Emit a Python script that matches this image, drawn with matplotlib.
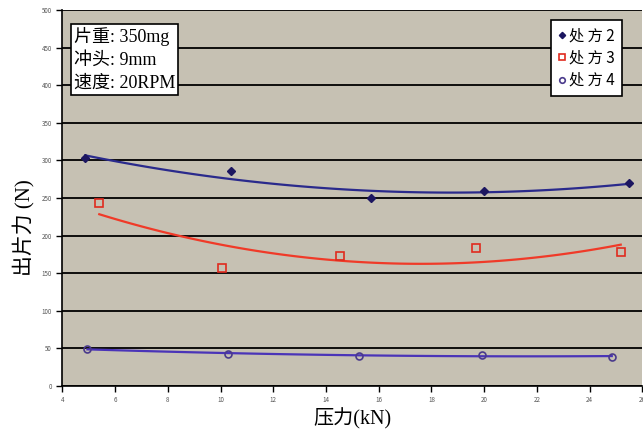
import numpy as np
import matplotlib
matplotlib.use("Agg")
import matplotlib.pyplot as plt

plt.rcParams['font.family'] = ['Noto Sans CJK SC', 'DejaVu Sans']
serif = ['Liberation Serif', 'Noto Sans CJK SC']

# data
x2 = [4.87, 10.39, 15.71, 20.0, 25.5]
y2 = [303, 286, 250, 259, 270]
x3 = [5.4, 10.05, 14.53, 19.7, 25.18]
y3 = [243, 157, 173, 184, 178]
x4 = [4.95, 10.27, 15.25, 19.9, 24.84]
y4 = [49, 43, 40, 41, 39]
names = ['处 方 2', '处 方 3', '处 方 4']
xticks = list(range(4, 27, 2))
yticks = list(range(0, 501, 50))

fig = plt.figure(figsize=(6.43, 4.41), dpi=100)
ax = fig.add_axes([0.097, 0.125, 0.902, 0.852])
ax.set_facecolor('#c6c1b3')

def trend(x, y):
    c = np.polyfit(x, y, 2)
    xs = np.linspace(min(x), max(x), 100)
    return xs, np.polyval(c, xs)

l2, = ax.plot(x2, y2, 'D', ms=4, color='#1c1660', label=names[0], zorder=4)
ax.plot(*trend(x2, y2), color='#2a2a8c', lw=1.6, zorder=3)
l3, = ax.plot(x3, y3, 's', ms=6, mfc='none', mec='#e02a1e', mew=1.2, label=names[1], zorder=4)
ax.plot(*trend(x3, y3), color='#f03a28', lw=1.6, zorder=3)
l4, = ax.plot(x4, y4, 'o', ms=5, mfc='none', mec='#4a3a8c', mew=1.2, label=names[2], zorder=4)
ax.plot(*trend(x4, y4), color='#4a34b8', lw=1.6, zorder=3)

ax.set_xlim(4, 26)
ax.set_ylim(0, 500)
ax.set_xticks(xticks)
ax.set_yticks(yticks)
ax.tick_params(labelsize=4.5, labelcolor='#555555', length=4, width=1)
ax.yaxis.grid(True, color='black', lw=1.3)
ax.set_axisbelow(True)
for s in ['top', 'right']:
    ax.spines[s].set_visible(False)
ax.spines['left'].set_linewidth(1.2)
ax.spines['bottom'].set_linewidth(1.2)

ax.set_xlabel('压力(kN)', fontsize=14.5, labelpad=3, family=serif)
ax.set_ylabel('出片力 (N)', fontsize=15, family=serif, va='center')
ax.yaxis.set_label_coords(-0.066, 0.42)

ax.text(0.02, 0.955, '片重: 350mg\n冲头: 9mm\n速度: 20RPM', transform=ax.transAxes,
        fontsize=13, va='top', ha='left', linespacing=1.45, family=serif,
        bbox=dict(boxstyle='square,pad=0.15', fc='white', ec='black', lw=1.2))

leg = ax.legend(handles=[l2, l3, l4], loc='upper right', bbox_to_anchor=(0.972, 0.985),
                fontsize=11, frameon=True, fancybox=False, handlelength=0.5,
                handletextpad=0.2, borderpad=0.45, borderaxespad=0.3,
                labelspacing=0.35, markerscale=0.8)
leg.get_frame().set_edgecolor('black')
leg.get_frame().set_linewidth(1.2)
leg.get_frame().set_alpha(1)

fig.savefig('out.png', dpi=100)
